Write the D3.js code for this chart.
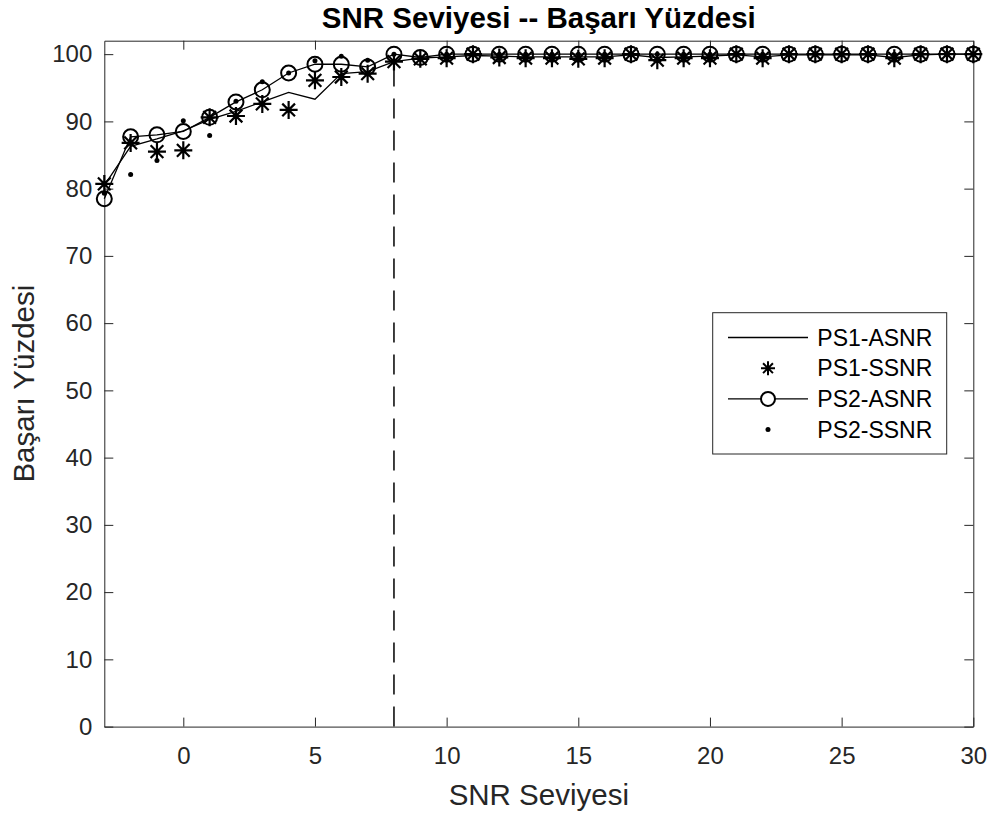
<!DOCTYPE html>
<html>
  <head>
    <meta charset="utf-8">
    <title>SNR Seviyesi -- Başarı Yüzdesi</title>
    <style type="text/css">
     html, body {
       margin: 0;
       padding: 0;
       background: #fff;
     }
     svg text {
       font-family: "Liberation Sans", Arial, sans-serif;
       fill: #262626;
     }
     .axis path, .axis line {
       stroke: #262626;
       stroke-width: 1px;
     }
     .axis text {
       font-size: 24px;
     }
    </style>
  </head>
  <body>
    <svg width="989" height="818"></svg>
    <script src="https://cdn.jsdelivr.net/npm/d3@7"></script>
    <script>
     // SNR levels (x)
     var snr = [-3, -2, -1, 0, 1, 2, 3, 4, 5, 6, 7, 8, 9, 10, 11, 12, 13, 14, 15, 16,
                17, 18, 19, 20, 21, 22, 23, 24, 25, 26, 27, 28, 29, 30];

     // PS1 - line only
     var ps1Asnr = [80.5, 86.3, 87.4, 88.6, 90.3, 91.5, 92.9, 94.3, 93.3, 97.1, 97.4, 98.9, 99.4, 99.6, 99.8, 99.7, 99.6,
                    99.6, 99.6, 99.6, 99.9, 99.5, 99.6, 99.7, 99.9, 99.6, 99.9, 99.9, 99.9, 99.9, 99.5, 99.9, 100, 100];
     // PS1 - asterisks only
     var ps1Ssnr = [80.7, 86.8, 85.5, 85.7, 90.6, 90.8, 92.6, 91.7, 96.1, 96.6, 97.1, 98.9, 99.3, 99.4, 100, 99.5, 99.4,
                    99.4, 99.3, 99.4, 100, 99.1, 99.4, 99.4, 100, 99.4, 100, 100, 100, 100, 99.4, 100, 100, 100];
     // PS2 - line with circles
     var ps2Asnr = [78.5, 87.7, 88.0, 88.5, 90.6, 92.9, 94.7, 97.2, 98.5, 98.5, 98.1, 100, 99.5, 100, 100, 100, 100,
                    100, 100, 100, 100, 100, 100, 100, 100, 100, 100, 100, 100, 100, 100, 100, 100, 100];
     // PS2 - dots only
     var ps2Ssnr = [79.3, 82.1, 84.2, 90.1, 87.9, 93.0, 95.9, 97.2, 99.0, 99.7, 99.1, 100, 99.5, 100, 100, 100, 100,
                    100, 100, 100, 100, 100, 100, 100, 100, 100, 100, 100, 100, 100, 100, 100, 100, 100];

     var threshold = 8;
     var xTicks = [0, 5, 10, 15, 20, 25, 30];
     var yTicks = [0, 10, 20, 30, 40, 50, 60, 70, 80, 90, 100];
     var legendLabels = ["PS1-ASNR", "PS1-SSNR", "PS2-ASNR", "PS2-SSNR"];

     var svg = d3.select("svg");
     var margin = {left: 104.3, right: 989 - 973.3, top: 40.7, bottom: 818 - 726.6};
     var width = 989 - margin.left - margin.right,
         height = 818 - margin.top - margin.bottom;

     var x = d3.scaleLinear().domain([-3, 30]).range([0, width]);
     var y = d3.scaleLinear().domain([0, 102]).range([height, 0]);

     var g = svg.append("g")
                .attr("transform", "translate(" + margin.left + "," + margin.top + ")");

     // box + inward ticks on all four sides
     g.append("g").attr("class", "axis")
      .attr("transform", "translate(0," + height + ")")
      .call(d3.axisBottom(x).tickValues(xTicks).tickSize(-9).tickSizeOuter(0).tickPadding(20));
     g.append("g").attr("class", "axis")
      .call(d3.axisLeft(y).tickValues(yTicks).tickSize(-9).tickSizeOuter(0).tickPadding(12));
     g.append("g").attr("class", "axis")
      .call(d3.axisTop(x).tickValues(xTicks).tickSize(-9).tickSizeOuter(0).tickFormat(""));
     g.append("g").attr("class", "axis")
      .attr("transform", "translate(" + width + ",0)")
      .call(d3.axisRight(y).tickValues(yTicks).tickSize(-9).tickSizeOuter(0).tickFormat(""));

     // dashed threshold line
     g.append("line")
      .attr("x1", x(threshold)).attr("x2", x(threshold))
      .attr("y1", y(0)).attr("y2", y(100))
      .attr("stroke", "#000")
      .attr("stroke-width", 1.5)
      .attr("stroke-dasharray", "20,12");

     var line = d3.line()
                  .x(function(d) { return x(d[0]); })
                  .y(function(d) { return y(d[1]); });

     function pairs(vals) {
       return snr.map(function(s, i) { return [s, vals[i]]; });
     }

     function asterisk(sel, r, w) {
       var a = r * Math.cos(Math.PI / 4);
       sel.append("path")
          .attr("d", "M0," + (-r) + "V" + r +
                     "M" + (-r) + ",0H" + r +
                     "M" + (-a) + "," + (-a) + "L" + a + "," + a +
                     "M" + (-a) + "," + a + "L" + a + "," + (-a))
          .attr("fill", "none")
          .attr("stroke", "#000")
          .attr("stroke-width", w);
     }

     g.append("path")
      .datum(pairs(ps1Asnr))
      .attr("fill", "none")
      .attr("stroke", "#000")
      .attr("stroke-width", 1.3)
      .attr("d", line);

     g.append("path")
      .datum(pairs(ps2Asnr))
      .attr("fill", "none")
      .attr("stroke", "#000")
      .attr("stroke-width", 1.3)
      .attr("d", line);

     g.append("g").selectAll("g")
      .data(pairs(ps1Ssnr))
      .enter().append("g")
      .attr("transform", function(d) { return "translate(" + x(d[0]) + "," + y(d[1]) + ")"; })
      .each(function() { asterisk(d3.select(this), 9, 2.2); });

     g.append("g").selectAll("circle")
      .data(pairs(ps2Asnr))
      .enter().append("circle")
      .attr("cx", function(d) { return x(d[0]); })
      .attr("cy", function(d) { return y(d[1]); })
      .attr("r", 7.5)
      .attr("fill", "none")
      .attr("stroke", "#000")
      .attr("stroke-width", 2);

     g.append("g").selectAll("circle")
      .data(pairs(ps2Ssnr))
      .enter().append("circle")
      .attr("cx", function(d) { return x(d[0]); })
      .attr("cy", function(d) { return y(d[1]); })
      .attr("r", 2.5)
      .attr("fill", "#000");

     // title and labels
     svg.append("text")
        .attr("x", margin.left + width / 2)
        .attr("y", 28)
        .attr("text-anchor", "middle")
        .style("font-size", "29.5px")
        .style("font-weight", "bold")
        .style("fill", "#000")
        .text("SNR Seviyesi -- Başarı Yüzdesi");

     svg.append("text")
        .attr("x", margin.left + width / 2)
        .attr("y", 805)
        .attr("text-anchor", "middle")
        .style("font-size", "29.5px")
        .text("SNR Seviyesi");

     svg.append("text")
        .attr("transform", "translate(34," + (margin.top + height / 2) + ") rotate(-90)")
        .attr("text-anchor", "middle")
        .style("font-size", "29.5px")
        .text("Başarı Yüzdesi");

     // legend
     var legend = svg.append("g").attr("transform", "translate(712.7,312.7)");
     legend.append("rect")
           .attr("width", 234).attr("height", 141.3)
           .attr("fill", "#fff")
           .attr("stroke", "#262626")
           .attr("stroke-width", 1);

     var rows = legend.selectAll("g.row")
                      .data(legendLabels)
                      .enter().append("g")
                      .attr("class", "row")
                      .attr("transform", function(d, i) { return "translate(0," + (24.8 + i * 30.7) + ")"; });

     rows.append("text")
         .attr("x", 104.6)
         .attr("dy", "0.35em")
         .style("font-size", "23px")
         .style("fill", "#000")
         .text(function(d) { return d; });

     rows.each(function(d, i) {
       var r = d3.select(this);
       if (i == 0 || i == 2) {
         r.append("line").attr("x1", 15.3).attr("x2", 95.3)
          .attr("stroke", "#000").attr("stroke-width", 1.3);
       }
       if (i == 1) asterisk(r.append("g").attr("transform", "translate(55.3,0)"), 7, 2);
       if (i == 2) {
         r.append("circle").attr("cx", 55.3).attr("r", 7)
          .attr("fill", "#fff").attr("stroke", "#000").attr("stroke-width", 2);
       }
       if (i == 3) {
         r.append("circle").attr("cx", 55.3).attr("r", 2.5).attr("fill", "#000");
       }
     });
    </script>
  </body>
</html>
